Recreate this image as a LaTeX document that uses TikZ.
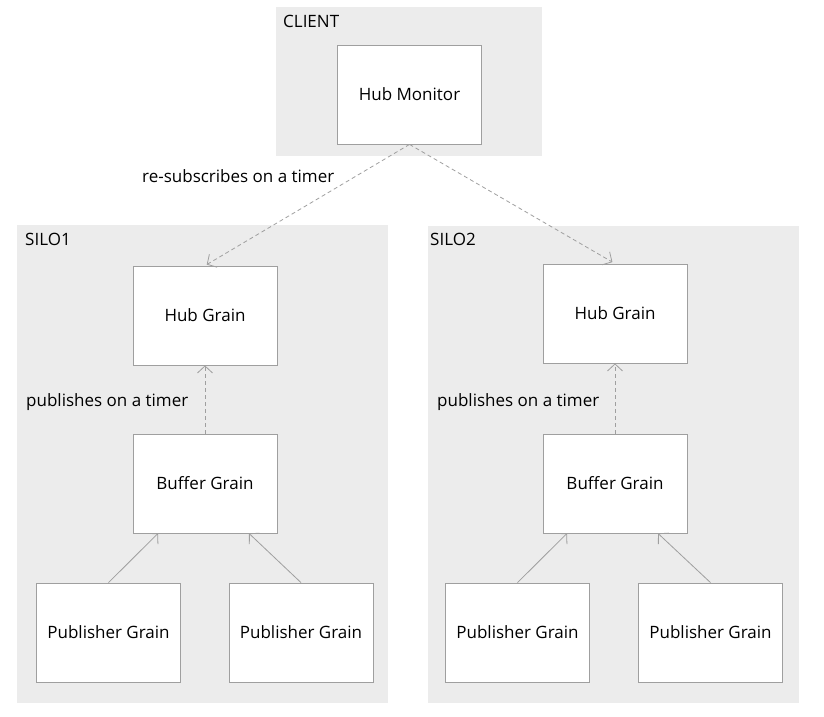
\documentclass[tikz,border=0pt]{standalone}
\usepackage{fontspec}
\setmainfont{Open Sans}
\usetikzlibrary{arrows.meta}
\tikzset{
  grain/.style={draw=gray!75, line width=0.8pt, fill=white, minimum width=144pt, minimum height=99pt, inner sep=0pt, font=\fontsize{17}{20}\selectfont},
  zone/.style={fill=gray!15, draw=none},
  zonelabel/.style={anchor=north west, inner sep=0pt, font=\fontsize{17}{20}\selectfont},
  msg/.style={anchor=base west, inner sep=0pt, font=\fontsize{17}{20}\selectfont},
  tick/.style={draw=gray!75, line width=0.8pt, dash pattern=on 4pt off 3pt, -{Straight Barb[length=7pt,width=15pt]}},
  feed/.style={draw=gray!75, line width=0.8pt, -{Straight Barb[length=7pt,width=15pt]}}
}
\begin{document}
\begin{tikzpicture}[x=1pt, y=-1pt]
\useasboundingbox (0,0) rectangle (824,716);

% containers
\fill[zone] (276,7) rectangle (542,156);
\fill[zone] (17,225) rectangle (388,703);
\fill[zone] (428,226) rectangle (799,703);
\node[zonelabel] (client) at (283,15) {CLIENT};
\node[zonelabel] (silo1) at (25,233) {SILO1};
\node[zonelabel] (silo2) at (430,233) {SILO2};

% grains
\node[grain] (mon) at (409.5,94.5) {Hub Monitor};

\node[grain] (hub1) at (205,315.5) {Hub Grain};
\node[grain] (buf1) at (205,483.5) {Buffer Grain};
\node[grain] (pubA) at (108.5,632.5) {Publisher Grain};
\node[grain] (pubB) at (301,632.5) {Publisher Grain};

\node[grain] (hub2) at (615,313.5) {Hub Grain};
\node[grain] (buf2) at (615,483.5) {Buffer Grain};
\node[grain] (pubC) at (517.5,632.5) {Publisher Grain};
\node[grain] (pubD) at (710.5,632.5) {Publisher Grain};

% connectors
\draw[tick, shorten >=2pt] (mon.south) -- (hub1.north);
\draw[tick, shorten >=3pt] (mon.south) -- (hub2.north);
\draw[tick] (buf1.north) -- (hub1.south);
\draw[tick] (buf2.north) -- (hub2.south);
\draw[feed] (pubA.north) -- ([xshift=-47pt]buf1.south);
\draw[feed] (pubB.north) -- ([xshift=44pt]buf1.south);
\draw[feed] (pubC.north) -- ([xshift=-48pt]buf2.south);
\draw[feed] (pubD.north) -- ([xshift=43pt]buf2.south);

\node[msg] (resub) at (142,182) {re-subscribes on a timer};
\node[msg] (pub1) at (26,406) {publishes on a timer};
\node[msg] (pub2) at (437,406) {publishes on a timer};
\end{tikzpicture}
\end{document}
